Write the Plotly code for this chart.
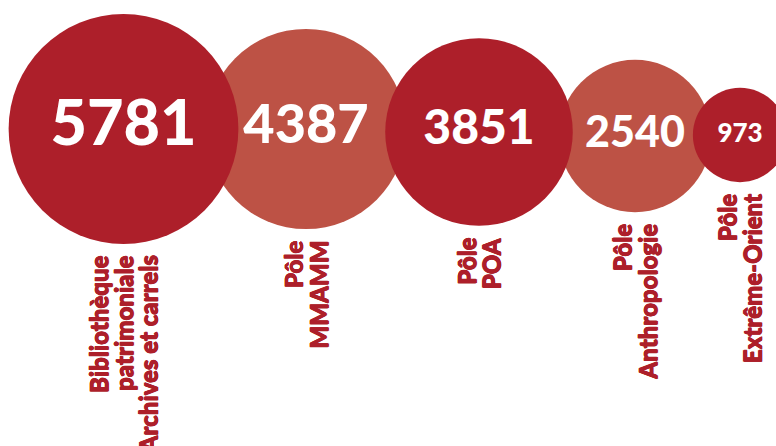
import math
import plotly.graph_objects as go

# ---- data ----
values = [5781, 4387, 3851, 2540, 973]
value_labels = ["5781", "4387", "3851", "2540", "973"]
category_lines = [
    ["Bibliothèque", "patrimoniale", "Archives et carrels"],
    ["Pôle", "MMAMM"],
    ["Pôle", "POA"],
    ["Pôle", "Anthropologie"],
    ["Pôle", "Extrême-Orient"],
]

# ---- layout (pixel-space placement of the packed bubbles) ----
center_x = [123.5, 306, 479, 635, 740]
center_y = [129, 129, 132, 136, 135]
shade = ["dark", "light", "dark", "light", "dark"]
DARK = "#AD1F2A"
LIGHT = "#BD5245"
SIZEREF = 0.219           # area mode: radius = sqrt(v / (2*sizeref))
num_font = [63, 54, 48, 43, 26]
LABEL_FONT = 24
LINE_PITCH = 25
GAP = 11
THICKEN = "0.4px 0 0 {c}, -0.4px 0 0 {c}, 0 0.4px 0 {c}, 0 -0.4px 0 {c}"

fig = go.Figure()
for wanted, col in (("light", LIGHT), ("dark", DARK)):
    idx = [i for i, s in enumerate(shade) if s == wanted]
    fig.add_trace(go.Scatter(
        x=[center_x[i] for i in idx],
        y=[center_y[i] for i in idx],
        mode="markers+text",
        marker=dict(size=[values[i] for i in idx], sizemode="area", sizeref=SIZEREF,
                    color=col, line=dict(width=0), opacity=1),
        text=[value_labels[i] for i in idx],
        textposition="middle center",
        textfont=dict(family="Lato", size=[num_font[i] for i in idx], color="white", weight=900),
        hoverinfo="skip",
        showlegend=False,
        cliponaxis=False,
    ))

for i, lines in enumerate(category_lines):
    r = math.sqrt(values[i] / (2 * SIZEREF))
    n = len(lines)
    for j, line in enumerate(lines):
        fig.add_annotation(
            x=center_x[i] + (j - (n - 1) / 2) * LINE_PITCH,
            y=center_y[i] + r + GAP,
            xref="x", yref="y",
            text=line, showarrow=False, textangle=-90,
            xanchor="center", yanchor="top", borderpad=0,
            font=dict(family="Lato", size=LABEL_FONT, color=DARK, weight=900,
                      shadow=THICKEN.format(c=DARK)),
        )

fig.update_layout(
    width=776, height=446,
    margin=dict(l=0, r=0, t=0, b=0),
    paper_bgcolor="white", plot_bgcolor="white",
    xaxis=dict(range=[0, 776], visible=False, fixedrange=True),
    yaxis=dict(range=[446, 0], visible=False, fixedrange=True),
)
fig.write_html(
    "out.html",
    config={"displayModeBar": False, "staticPlot": True},
    post_script="document.body.style.margin='0';document.body.style.overflow='hidden';",
)
